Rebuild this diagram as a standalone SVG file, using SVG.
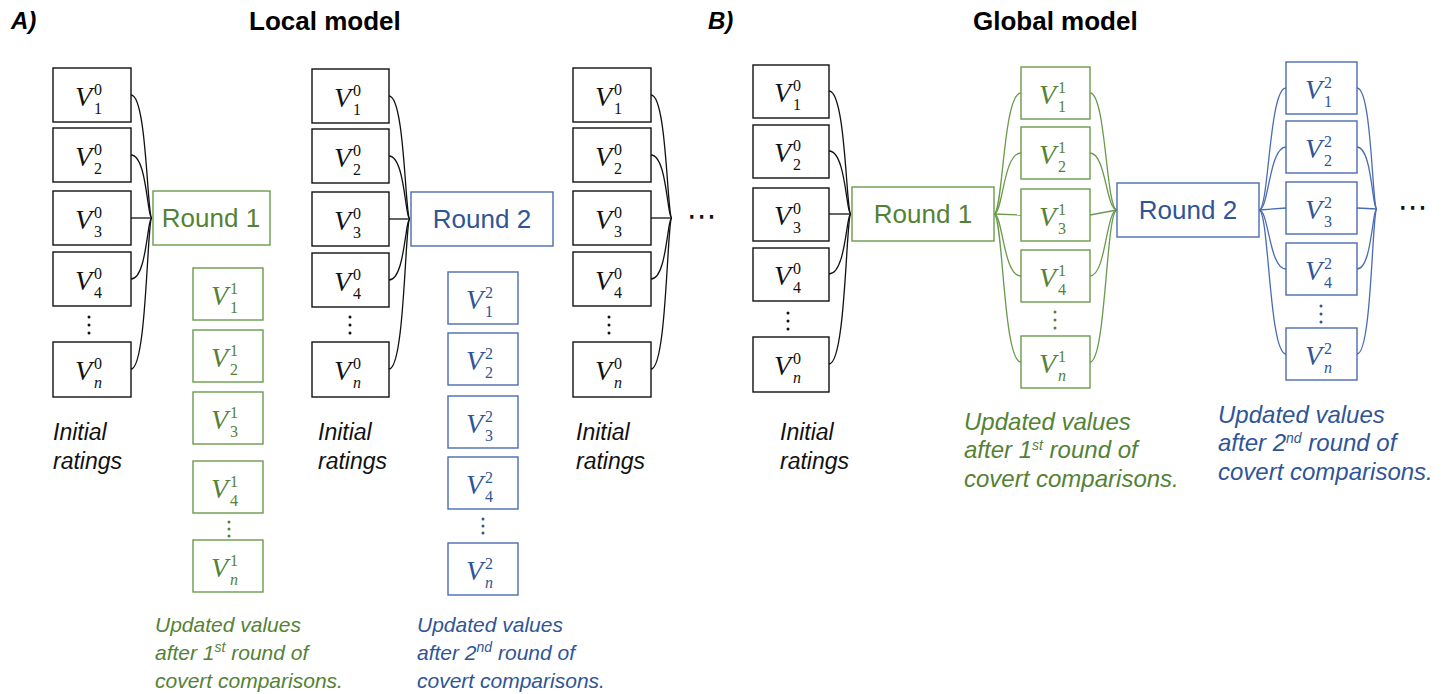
<svg xmlns="http://www.w3.org/2000/svg" width="1450" height="694" viewBox="0 0 1450 694">
  <style>
    .bg { fill: #ffffff; }
    .box { fill: #ffffff; stroke-width: 1.4; }
    .k { stroke: #111111; }
    .g { stroke: #6a9a4c; }
    .b { stroke: #4a6cb0; }
    .wire { fill: none; stroke-width: 1.3; }
    .v { font-family: "Liberation Serif", "DejaVu Serif", serif; font-style: italic; font-size: 28px; }
    .idx { font-family: "Liberation Serif", "DejaVu Serif", serif; font-size: 16px; }
    .n { font-style: italic; }
    .tk { fill: #111111; }
    .tg { fill: #548235; }
    .tb { fill: #2f5597; }
    .round { font-family: "Liberation Sans", Arial, sans-serif; font-size: 26px; text-anchor: middle; }
    .title { font-family: "Liberation Sans", Arial, sans-serif; font-size: 26px; font-weight: bold; fill: #000; }
    .panel { font-family: "Liberation Sans", Arial, sans-serif; font-size: 24px; font-weight: bold; font-style: italic; fill: #000; }
    .note { font-family: "Liberation Sans", Arial, sans-serif; font-size: 23px; font-style: italic; }
    .note.sm { font-size: 21px; }
    .note.lg { font-size: 24px; }
    .sup { font-size: 14px; }
    .dot { stroke: none; }
    .ell { font-family: "DejaVu Sans", sans-serif; font-size: 30px; fill: #111; }
  </style>

  <rect class="bg" x="0" y="0" width="1450" height="694"/>

  <!-- headings -->
  <text class="panel" x="11" y="29">A)</text>
  <text class="title" x="249" y="30">Local model</text>
  <text class="panel" x="708" y="29">B)</text>
  <text class="title" x="973" y="30">Global model</text>

  <!-- ================= connectors ================= -->
  <g id="connectors" class="wire">
    <g class="k">
      <!-- local: initial ratings into Round 1 -->
      <path d="M131,95 C147,95 147,218 152,218"/>
      <path d="M131,155 C147,155 147,218 152,218"/>
      <path d="M131,218 L152,218"/>
      <path d="M131,279 C147,279 147,218 152,218"/>
      <path d="M131,369 C147,369 147,218 152,218"/>
      <!-- local: initial ratings into Round 2 -->
      <path d="M389,96 C405,96 405,219 410,219"/>
      <path d="M389,156 C405,156 405,219 410,219"/>
      <path d="M389,219 L410,219"/>
      <path d="M389,280 C405,280 405,219 410,219"/>
      <path d="M389,369 C405,369 405,219 410,219"/>
      <!-- local: third set -->
      <path d="M651,95 C667,95 667,218 672,218"/>
      <path d="M651,155 C667,155 667,218 672,218"/>
      <path d="M651,218 L672,218"/>
      <path d="M651,279 C667,279 667,218 672,218"/>
      <path d="M651,369 C667,369 667,218 672,218"/>
      <!-- global: initial ratings into Round 1 -->
      <path d="M829,91 C846,91 846,214 851,214"/>
      <path d="M829,151 C846,151 846,214 851,214"/>
      <path d="M829,214 L851,214"/>
      <path d="M829,274 C846,274 846,214 851,214"/>
      <path d="M829,364 C846,364 846,214 851,214"/>
    </g>
    <g class="g">
      <!-- Round 1 out to updated values -->
      <path d="M994,214 C1003,214 1003,93 1021,93"/>
      <path d="M994,214 C1003,214 1003,153 1021,153"/>
      <path d="M994,214 L1021,215"/>
      <path d="M994,214 C1003,214 1003,276 1021,276"/>
      <path d="M994,214 C1003,214 1003,362 1021,362"/>
      <!-- updated values into Round 2 -->
      <path d="M1090,93 C1106,93 1106,210 1117,210"/>
      <path d="M1090,153 C1106,153 1106,210 1117,210"/>
      <path d="M1090,215 L1117,210"/>
      <path d="M1090,276 C1106,276 1106,210 1117,210"/>
      <path d="M1090,362 C1106,362 1106,210 1117,210"/>
    </g>
    <g class="b">
      <!-- Round 2 out to updated values -->
      <path d="M1259,210 C1269,210 1269,88 1286,88"/>
      <path d="M1259,210 C1269,210 1269,147 1286,147"/>
      <path d="M1259,210 L1286,208"/>
      <path d="M1259,210 C1269,210 1269,269 1286,269"/>
      <path d="M1259,210 C1269,210 1269,354 1286,354"/>
      <!-- updated values onward -->
      <path d="M1357,88 C1372,88 1372,209 1377,209"/>
      <path d="M1357,147 C1372,147 1372,209 1377,209"/>
      <path d="M1357,208 L1377,209"/>
      <path d="M1357,269 C1372,269 1372,209 1377,209"/>
      <path d="M1357,354 C1372,354 1372,209 1377,209"/>
    </g>
  </g>

  <!-- ================= Local model nodes ================= -->
  <!-- initial ratings, stack 1 -->
  <g id="a1-v1" transform="translate(53,68)"><rect class="box k" width="78" height="54"/><text class="v tk" x="22" y="38">V</text><text class="idx tk" x="41" y="27">0</text><text class="idx tk" x="41" y="46">1</text></g>
  <g id="a1-v2" transform="translate(53,128)"><rect class="box k" width="78" height="54"/><text class="v tk" x="22" y="38">V</text><text class="idx tk" x="41" y="27">0</text><text class="idx tk" x="41" y="46">2</text></g>
  <g id="a1-v3" transform="translate(53,191)"><rect class="box k" width="78" height="54"/><text class="v tk" x="22" y="38">V</text><text class="idx tk" x="41" y="27">0</text><text class="idx tk" x="41" y="46">3</text></g>
  <g id="a1-v4" transform="translate(53,252)"><rect class="box k" width="78" height="54"/><text class="v tk" x="22" y="38">V</text><text class="idx tk" x="41" y="27">0</text><text class="idx tk" x="41" y="46">4</text></g>
  <g id="a1-dots"><circle class="dot tk" cx="89" cy="317" r="1.5"/><circle class="dot tk" cx="89" cy="325" r="1.5"/><circle class="dot tk" cx="89" cy="333" r="1.5"/></g>
  <g id="a1-vn" transform="translate(53,342)"><rect class="box k" width="78" height="55"/><text class="v tk" x="22" y="38">V</text><text class="idx tk" x="41" y="27">0</text><text class="idx tk n" x="41" y="46">n</text></g>
  <text class="note tk" x="53" y="440">Initial</text>
  <text class="note tk" x="53" y="469">ratings</text>

  <!-- Round 1 (local) -->
  <g id="a-round1"><rect class="box g" x="153" y="191" width="117" height="54"/><text class="round tg" x="211" y="227">Round 1</text></g>

  <!-- updated values after round 1 (local) -->
  <g id="a-u1-v1" transform="translate(193,268)"><rect class="box g" width="70" height="52"/><text class="v tg" x="18" y="37">V</text><text class="idx tg" x="37" y="26">1</text><text class="idx tg" x="37" y="45">1</text></g>
  <g id="a-u1-v2" transform="translate(193,330)"><rect class="box g" width="70" height="52"/><text class="v tg" x="18" y="37">V</text><text class="idx tg" x="37" y="26">1</text><text class="idx tg" x="37" y="45">2</text></g>
  <g id="a-u1-v3" transform="translate(193,392)"><rect class="box g" width="70" height="52"/><text class="v tg" x="18" y="37">V</text><text class="idx tg" x="37" y="26">1</text><text class="idx tg" x="37" y="45">3</text></g>
  <g id="a-u1-v4" transform="translate(193,461)"><rect class="box g" width="70" height="52"/><text class="v tg" x="18" y="37">V</text><text class="idx tg" x="37" y="26">1</text><text class="idx tg" x="37" y="45">4</text></g>
  <g id="a-u1-dots"><circle class="dot tg" cx="229" cy="522" r="1.5"/><circle class="dot tg" cx="229" cy="529" r="1.5"/><circle class="dot tg" cx="229" cy="536" r="1.5"/></g>
  <g id="a-u1-vn" transform="translate(193,540)"><rect class="box g" width="70" height="52"/><text class="v tg" x="18" y="37">V</text><text class="idx tg" x="37" y="26">1</text><text class="idx tg n" x="37" y="45">n</text></g>
  <text class="note sm tg" x="155" y="632">Updated values</text>
  <text class="note sm tg" x="155" y="660">after 1<tspan class="sup" dy="-8">st</tspan><tspan dy="8"> round of</tspan></text>
  <text class="note sm tg" x="155" y="688">covert comparisons.</text>

  <!-- initial ratings, stack 2 -->
  <g id="a2-v1" transform="translate(312,69)"><rect class="box k" width="77" height="54"/><text class="v tk" x="22" y="38">V</text><text class="idx tk" x="41" y="27">0</text><text class="idx tk" x="41" y="46">1</text></g>
  <g id="a2-v2" transform="translate(312,129)"><rect class="box k" width="77" height="54"/><text class="v tk" x="22" y="38">V</text><text class="idx tk" x="41" y="27">0</text><text class="idx tk" x="41" y="46">2</text></g>
  <g id="a2-v3" transform="translate(312,192)"><rect class="box k" width="77" height="54"/><text class="v tk" x="22" y="38">V</text><text class="idx tk" x="41" y="27">0</text><text class="idx tk" x="41" y="46">3</text></g>
  <g id="a2-v4" transform="translate(312,253)"><rect class="box k" width="77" height="54"/><text class="v tk" x="22" y="38">V</text><text class="idx tk" x="41" y="27">0</text><text class="idx tk" x="41" y="46">4</text></g>
  <g id="a2-dots"><circle class="dot tk" cx="350" cy="317" r="1.5"/><circle class="dot tk" cx="350" cy="325" r="1.5"/><circle class="dot tk" cx="350" cy="333" r="1.5"/></g>
  <g id="a2-vn" transform="translate(312,342)"><rect class="box k" width="77" height="55"/><text class="v tk" x="22" y="38">V</text><text class="idx tk" x="41" y="27">0</text><text class="idx tk n" x="41" y="46">n</text></g>
  <text class="note tk" x="318" y="440">Initial</text>
  <text class="note tk" x="318" y="469">ratings</text>

  <!-- Round 2 (local) -->
  <g id="a-round2"><rect class="box b" x="411" y="192" width="142" height="54"/><text class="round tb" x="482" y="228">Round 2</text></g>

  <!-- updated values after round 2 (local) -->
  <g id="a-u2-v1" transform="translate(448,272)"><rect class="box b" width="70" height="52"/><text class="v tb" x="18" y="37">V</text><text class="idx tb" x="37" y="26">2</text><text class="idx tb" x="37" y="45">1</text></g>
  <g id="a-u2-v2" transform="translate(448,333)"><rect class="box b" width="70" height="52"/><text class="v tb" x="18" y="37">V</text><text class="idx tb" x="37" y="26">2</text><text class="idx tb" x="37" y="45">2</text></g>
  <g id="a-u2-v3" transform="translate(448,396)"><rect class="box b" width="70" height="52"/><text class="v tb" x="18" y="37">V</text><text class="idx tb" x="37" y="26">2</text><text class="idx tb" x="37" y="45">3</text></g>
  <g id="a-u2-v4" transform="translate(448,457)"><rect class="box b" width="70" height="52"/><text class="v tb" x="18" y="37">V</text><text class="idx tb" x="37" y="26">2</text><text class="idx tb" x="37" y="45">4</text></g>
  <g id="a-u2-dots"><circle class="dot tb" cx="483" cy="519" r="1.5"/><circle class="dot tb" cx="483" cy="526" r="1.5"/><circle class="dot tb" cx="483" cy="533" r="1.5"/></g>
  <g id="a-u2-vn" transform="translate(448,543)"><rect class="box b" width="70" height="52"/><text class="v tb" x="18" y="37">V</text><text class="idx tb" x="37" y="26">2</text><text class="idx tb n" x="37" y="45">n</text></g>
  <text class="note sm tb" x="417" y="632">Updated values</text>
  <text class="note sm tb" x="417" y="660">after 2<tspan class="sup" dy="-8">nd</tspan><tspan dy="8"> round of</tspan></text>
  <text class="note sm tb" x="417" y="688">covert comparisons.</text>

  <!-- initial ratings, stack 3 -->
  <g id="a3-v1" transform="translate(573,68)"><rect class="box k" width="78" height="54"/><text class="v tk" x="22" y="38">V</text><text class="idx tk" x="41" y="27">0</text><text class="idx tk" x="41" y="46">1</text></g>
  <g id="a3-v2" transform="translate(573,128)"><rect class="box k" width="78" height="54"/><text class="v tk" x="22" y="38">V</text><text class="idx tk" x="41" y="27">0</text><text class="idx tk" x="41" y="46">2</text></g>
  <g id="a3-v3" transform="translate(573,191)"><rect class="box k" width="78" height="54"/><text class="v tk" x="22" y="38">V</text><text class="idx tk" x="41" y="27">0</text><text class="idx tk" x="41" y="46">3</text></g>
  <g id="a3-v4" transform="translate(573,252)"><rect class="box k" width="78" height="54"/><text class="v tk" x="22" y="38">V</text><text class="idx tk" x="41" y="27">0</text><text class="idx tk" x="41" y="46">4</text></g>
  <g id="a3-dots"><circle class="dot tk" cx="609" cy="317" r="1.5"/><circle class="dot tk" cx="609" cy="325" r="1.5"/><circle class="dot tk" cx="609" cy="333" r="1.5"/></g>
  <g id="a3-vn" transform="translate(573,342)"><rect class="box k" width="78" height="55"/><text class="v tk" x="22" y="38">V</text><text class="idx tk" x="41" y="27">0</text><text class="idx tk n" x="41" y="46">n</text></g>
  <text class="note tk" x="576" y="440">Initial</text>
  <text class="note tk" x="576" y="469">ratings</text>
  <text id="a-more" class="ell" x="687" y="226">⋯</text>

  <!-- ================= Global model nodes ================= -->
  <g id="b-v1" transform="translate(753,65)"><rect class="box k" width="76" height="53"/><text class="v tk" x="21" y="37">V</text><text class="idx tk" x="40" y="26">0</text><text class="idx tk" x="40" y="45">1</text></g>
  <g id="b-v2" transform="translate(753,125)"><rect class="box k" width="76" height="53"/><text class="v tk" x="21" y="37">V</text><text class="idx tk" x="40" y="26">0</text><text class="idx tk" x="40" y="45">2</text></g>
  <g id="b-v3" transform="translate(753,188)"><rect class="box k" width="76" height="53"/><text class="v tk" x="21" y="37">V</text><text class="idx tk" x="40" y="26">0</text><text class="idx tk" x="40" y="45">3</text></g>
  <g id="b-v4" transform="translate(753,248)"><rect class="box k" width="76" height="53"/><text class="v tk" x="21" y="37">V</text><text class="idx tk" x="40" y="26">0</text><text class="idx tk" x="40" y="45">4</text></g>
  <g id="b-dots"><circle class="dot tk" cx="788" cy="313" r="1.5"/><circle class="dot tk" cx="788" cy="321" r="1.5"/><circle class="dot tk" cx="788" cy="329" r="1.5"/></g>
  <g id="b-vn" transform="translate(753,337)"><rect class="box k" width="76" height="55"/><text class="v tk" x="21" y="38">V</text><text class="idx tk" x="40" y="27">0</text><text class="idx tk n" x="40" y="46">n</text></g>
  <text class="note tk" x="780" y="440">Initial</text>
  <text class="note tk" x="780" y="469">ratings</text>

  <g id="b-round1"><rect class="box g" x="852" y="187" width="142" height="54"/><text class="round tg" x="923" y="223">Round 1</text></g>

  <g id="b-u1-v1" transform="translate(1021,67)"><rect class="box g" width="69" height="52"/><text class="v tg" x="18" y="37">V</text><text class="idx tg" x="37" y="26">1</text><text class="idx tg" x="37" y="45">1</text></g>
  <g id="b-u1-v2" transform="translate(1021,127)"><rect class="box g" width="69" height="52"/><text class="v tg" x="18" y="37">V</text><text class="idx tg" x="37" y="26">1</text><text class="idx tg" x="37" y="45">2</text></g>
  <g id="b-u1-v3" transform="translate(1021,189)"><rect class="box g" width="69" height="52"/><text class="v tg" x="18" y="37">V</text><text class="idx tg" x="37" y="26">1</text><text class="idx tg" x="37" y="45">3</text></g>
  <g id="b-u1-v4" transform="translate(1021,250)"><rect class="box g" width="69" height="52"/><text class="v tg" x="18" y="37">V</text><text class="idx tg" x="37" y="26">1</text><text class="idx tg" x="37" y="45">4</text></g>
  <g id="b-u1-dots"><circle class="dot tg" cx="1055" cy="312" r="1.5"/><circle class="dot tg" cx="1055" cy="320" r="1.5"/><circle class="dot tg" cx="1055" cy="328" r="1.5"/></g>
  <g id="b-u1-vn" transform="translate(1021,336)"><rect class="box g" width="69" height="52"/><text class="v tg" x="18" y="37">V</text><text class="idx tg" x="37" y="26">1</text><text class="idx tg n" x="37" y="45">n</text></g>
  <text class="note lg tg" x="964" y="430">Updated values</text>
  <text class="note lg tg" x="964" y="458">after 1<tspan class="sup" dy="-8">st</tspan><tspan dy="8"> round of</tspan></text>
  <text class="note lg tg" x="964" y="487">covert comparisons.</text>

  <g id="b-round2"><rect class="box b" x="1117" y="183" width="142" height="54"/><text class="round tb" x="1188" y="219">Round 2</text></g>

  <g id="b-u2-v1" transform="translate(1286,62)"><rect class="box b" width="71" height="52"/><text class="v tb" x="19" y="37">V</text><text class="idx tb" x="38" y="26">2</text><text class="idx tb" x="38" y="45">1</text></g>
  <g id="b-u2-v2" transform="translate(1286,121)"><rect class="box b" width="71" height="52"/><text class="v tb" x="19" y="37">V</text><text class="idx tb" x="38" y="26">2</text><text class="idx tb" x="38" y="45">2</text></g>
  <g id="b-u2-v3" transform="translate(1286,182)"><rect class="box b" width="71" height="52"/><text class="v tb" x="19" y="37">V</text><text class="idx tb" x="38" y="26">2</text><text class="idx tb" x="38" y="45">3</text></g>
  <g id="b-u2-v4" transform="translate(1286,243)"><rect class="box b" width="71" height="52"/><text class="v tb" x="19" y="37">V</text><text class="idx tb" x="38" y="26">2</text><text class="idx tb" x="38" y="45">4</text></g>
  <g id="b-u2-dots"><circle class="dot tb" cx="1321" cy="306" r="1.5"/><circle class="dot tb" cx="1321" cy="314" r="1.5"/><circle class="dot tb" cx="1321" cy="322" r="1.5"/></g>
  <g id="b-u2-vn" transform="translate(1286,328)"><rect class="box b" width="71" height="52"/><text class="v tb" x="19" y="37">V</text><text class="idx tb" x="38" y="26">2</text><text class="idx tb n" x="38" y="45">n</text></g>
  <text class="note lg tb" x="1218" y="423">Updated values</text>
  <text class="note lg tb" x="1218" y="451">after 2<tspan class="sup" dy="-8">nd</tspan><tspan dy="8"> round of</tspan></text>
  <text class="note lg tb" x="1218" y="480">covert comparisons.</text>
  <text id="b-more" class="ell" x="1398" y="217">⋯</text>
</svg>
